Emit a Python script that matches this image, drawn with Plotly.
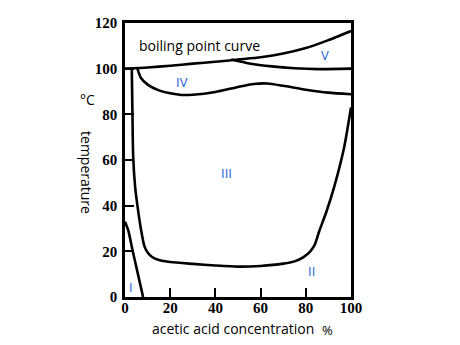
import plotly.graph_objects as go

# Phase diagram of the acetic acid – water system (temperature vs. concentration)
boil_x = [0, 10, 20, 30, 40, 50, 60, 70, 80, 90, 100]
boil_y = [100, 100.5, 101.3, 102.2, 103, 104, 105, 106.6, 109, 112.5, 116.5]

v_low_x = [47, 55, 65, 75, 85, 100]
v_low_y = [104, 102.3, 101, 100.2, 99.8, 100]

iv_x = [5.5, 7, 10, 15, 20, 25, 30, 40, 50, 57, 63, 70, 80, 90, 100]
iv_y = [100, 96, 93, 90.5, 89.2, 88.5, 88.6, 89.8, 92, 93.3, 93.5, 92.5, 90.8, 89.5, 88.8]

iii_x = [3, 3.3, 3.6, 4.5, 5.5, 7, 8.5, 10, 12, 15, 20, 30, 40, 50, 60, 70, 75, 79, 82, 84, 86, 89, 92.5, 97, 100]
iii_y = [100, 80, 62, 48, 40, 30, 22.5, 19.5, 17.5, 16.2, 15.3, 14.5, 13.8, 13.3, 13.6, 14.6, 15.6, 17.5, 20, 23, 29, 37, 48, 65.7, 83]

i_x = [0, 1.5, 3.3, 5.5, 8]
i_y = [33, 29, 20.6, 11, 0]

region_labels = ["boiling point curve", "V", "IV", "III", "II", "I"]
label_x = [33, 88.5, 25, 44.7, 82.3, 2.7]
label_y = [110, 106, 94, 54.3, 11.4, 4.4]

x_ticks = [0, 20, 40, 60, 80, 100]
y_ticks = [0, 20, 40, 60, 80, 100, 120]

line = dict(color="black", width=2.6, shape="spline", smoothing=0.6)

fig = go.Figure()
for xs, ys in [(boil_x, boil_y), (v_low_x, v_low_y), (iv_x, iv_y),
               (iii_x, iii_y), (i_x, i_y)]:
    fig.add_trace(go.Scatter(x=xs, y=ys, mode="lines", line=line,
                             hoverinfo="skip", showlegend=False))

for i, (t, x, y) in enumerate(zip(region_labels, label_x, label_y)):
    fig.add_annotation(
        x=x, y=y, text=t, showarrow=False,
        font=dict(family="Open Sans", size=14 if i == 0 else 13,
                  color="black" if i == 0 else "#1a5fd6"),
    )

fig.add_annotation(xref="paper", yref="paper", x=0.48, y=-0.115,
                   xanchor="center", yanchor="middle",
                   text="acetic acid concentration", showarrow=False,
                   font=dict(family="Open Sans", size=14, color="black"))
fig.add_annotation(xref="paper", yref="paper", x=0.894, y=-0.122,
                   xanchor="center", yanchor="middle",
                   text="%", showarrow=False,
                   font=dict(family="Open Sans", size=13, color="black"))
fig.add_annotation(xref="paper", yref="paper", x=-0.168, y=0.456,
                   xanchor="center", yanchor="middle",
                   text="temperature", textangle=90, showarrow=False,
                   font=dict(family="Open Sans", size=14, color="black"))
fig.add_annotation(xref="paper", yref="paper", x=-0.168, y=0.719,
                   xanchor="center", yanchor="middle",
                   text="°C", showarrow=False,
                   font=dict(family="Open Sans", size=14, color="black"))

axis_common = dict(
    showline=True, linecolor="black", linewidth=2.6, mirror=True,
    ticks="inside", ticklen=9, tickwidth=2, tickcolor="black",
    showgrid=False, zeroline=False,
    tickfont=dict(family="Liberation Serif", size=15, color="black", weight="bold"),
)

fig.update_xaxes(range=[0, 100], tickvals=x_ticks, ticklabelstandoff=-5, **axis_common)
fig.update_yaxes(range=[0, 120], tickvals=y_ticks, ticklabelstandoff=2, **axis_common)

fig.update_layout(
    width=460, height=345,
    margin=dict(l=125, r=109, t=23, b=48),
    paper_bgcolor="white", plot_bgcolor="white",
)

fig.write_html("out.html")
